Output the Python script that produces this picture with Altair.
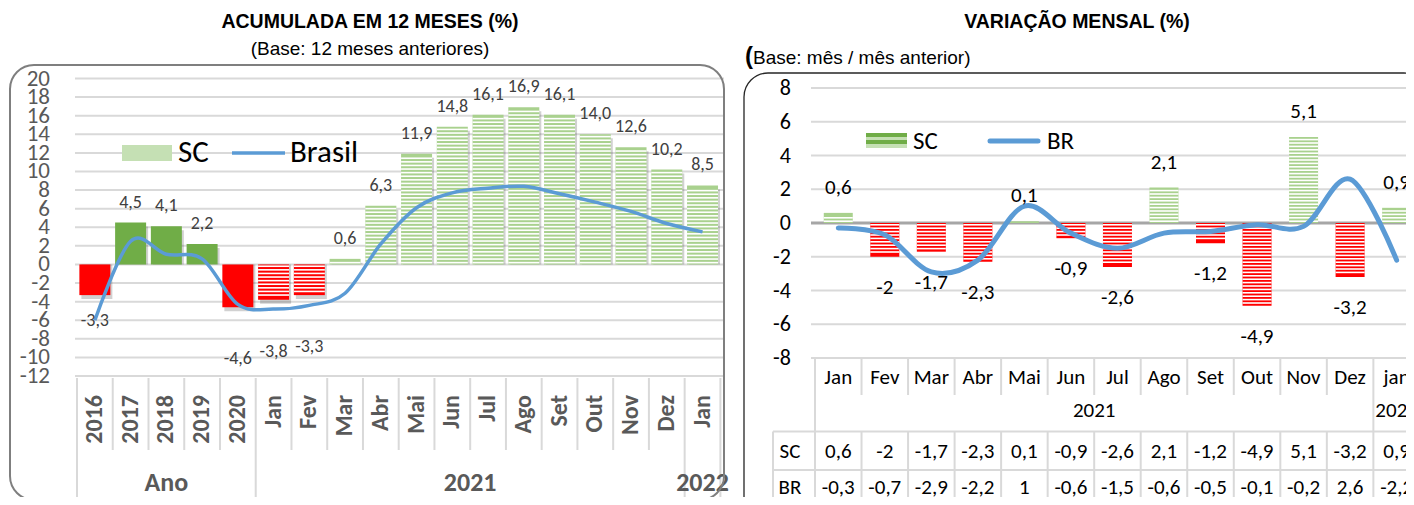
import altair as alt
import pandas as pd

# ---------------- data ----------------
cats_left = ["2016", "2017", "2018", "2019", "2020", "Jan", "Fev", "Mar", "Abr",
             "Mai", "Jun", "Jul", "Ago", "Set", "Out", "Nov", "Dez", "Jan"]
groups_left = ["Ano"] * 5 + ["2021"] * 12 + ["2022"]
sc_acum = [-3.3, 4.5, 4.1, 2.2, -4.6, -3.8, -3.3, 0.6, 6.3, 11.9, 14.8, 16.1,
           16.9, 16.1, 14.0, 12.6, 10.2, 8.5]
br_acum = [-6.0, 2.5, 1.1, 0.6, -4.3, -4.8, -4.4, -3.1, 2.2, 6.1, 7.7, 8.2,
           8.4, 7.6, 6.7, 5.7, 4.4, 3.5]
ticks_left = [-12, -10, -8, -6, -4, -2, 0, 2, 4, 6, 8, 10, 12, 14, 16, 18, 20]

months_right = ["Jan", "Fev", "Mar", "Abr", "Mai", "Jun", "Jul", "Ago", "Set",
                "Out", "Nov", "Dez", "jan"]
years_right = ["2021"] * 12 + ["2022"]
sc_mensal = [0.6, -2, -1.7, -2.3, 0.1, -0.9, -2.6, 2.1, -1.2, -4.9, 5.1, -3.2, 0.9]
br_mensal = [-0.3, -0.7, -2.9, -2.2, 1, -0.6, -1.5, -0.6, -0.5, -0.1, -0.2, 2.6, -2.2]
ticks_right = [-8, -6, -4, -2, 0, 2, 4, 6, 8]


def fmt1(v):
    return f"{v:.1f}".replace(".", ",")


def fmtg(v):
    return f"{v:g}".replace(".", ",")


CAL = "Carlito, Lato, sans-serif"
ARIAL = "Liberation Sans, Arial, sans-serif"
GRID = "#D9D9D9"
BLUE = "#5B9BD5"

# ---------------- tables ----------------
dfL = pd.DataFrame({
    "idx": list(range(len(cats_left))),
    "cat": cats_left,
    "grp": groups_left,
    "sc": sc_acum,
    "br": br_acum,
    "lab": [fmt1(v) for v in sc_acum],
})
bl, longl = [], []
for i in range(len(cats_left) + 1):
    bl.append(i - 0.5)
    longl.append(i == 0 or i == len(cats_left) or groups_left[i] != groups_left[i - 1])
dfSepL = pd.DataFrame({"b": bl, "long": longl})
gnames, gcent = [], []
for g in dict.fromkeys(groups_left):
    ids = [i for i, gg in enumerate(groups_left) if gg == g]
    gnames.append(g)
    gcent.append(sum(ids) / len(ids))
dfGrpL = pd.DataFrame({"g": gnames, "c": gcent})
dfTL = pd.DataFrame({"t": ticks_left, "ts": [str(t) for t in ticks_left]})

dfR = pd.DataFrame({
    "idx": list(range(len(months_right))),
    "m": months_right,
    "sc": sc_mensal,
    "br": br_mensal,
    "lsc": [fmtg(v) for v in sc_mensal],
    "lbr": [fmtg(v) for v in br_mensal],
})
br_, longr = [], []
for i in range(len(months_right) + 1):
    br_.append(i - 0.5)
    longr.append(i == 0 or i == len(months_right) or years_right[i] != years_right[i - 1])
dfSepR = pd.DataFrame({"b": br_, "long": longr})
ynames, ycent = [], []
for g in dict.fromkeys(years_right):
    ids = [i for i, gg in enumerate(years_right) if gg == g]
    ynames.append(g)
    ycent.append(sum(ids) / len(ids))
dfGrpR = pd.DataFrame({"g": ynames, "c": ycent})
dfTR = pd.DataFrame({"t": ticks_right, "ts": [str(t) for t in ticks_right]})
one = pd.DataFrame({"a": [0]})

# ---------------- left chart ----------------
LX = alt.Scale(domain=[-0.5, 17.5], range=[64, 64 + 18 * 36.3], nice=False, zero=False)
LY = alt.Scale(domain=[-12, 20], range=[368, 70.5], nice=False, zero=False)
LPX = (368 - 70.5) / 32.0
xL = alt.X("idx:Q", scale=LX, axis=None)

baseL = alt.Chart(dfL)
gridL = alt.Chart(dfTL).mark_rule(color=GRID, strokeWidth=2).encode(
    x=alt.value(67), x2=alt.value(716), y=alt.Y("t:Q", scale=LY, axis=None))
ylabL = alt.Chart(dfTL).mark_text(align="right", baseline="middle", font=CAL,
                                  fontSize=23, color="#595959").encode(
    x=alt.value(42), y=alt.Y("t:Q", scale=LY, axis=None), text="ts:N")
shadowL = baseL.mark_bar(width=31, color="#000000", opacity=0.18, xOffset=2, yOffset=4).encode(
    x=xL, y=alt.Y("sc:Q", scale=LY, axis=None), y2=alt.datum(0))
barsL = baseL.transform_calculate(
    col="datum.sc < 0 ? '#FF0000' : (datum.idx < 5 ? '#70AD47' : '#A9D18E')"
).mark_bar(width=31).encode(
    x=xL, y=alt.Y("sc:Q", scale=LY, axis=None), y2=alt.datum(0),
    color=alt.Color("col:N", scale=None))
stripesL = baseL.transform_filter("datum.idx >= 5").transform_calculate(
    k=f"sequence(0, floor(abs(datum.sc)*{LPX}/3.6))"
).transform_flatten(["k"]).transform_calculate(
    s="datum.sc >= 0 ? 1 : -1"
).transform_calculate(
    ya=f"datum.s*(datum.k*3.6+1.0)/{LPX}",
    yb=f"datum.s*(datum.k*3.6+2.6)/{LPX}",
).transform_filter("abs(datum.yb) <= abs(datum.sc)").mark_bar(width=31, color="white").encode(
    x=xL, y=alt.Y("ya:Q", scale=LY, axis=None), y2="yb:Q")
lineL = baseL.mark_line(interpolate="cardinal", color=BLUE, strokeWidth=3.5).encode(
    x=xL, y=alt.Y("br:Q", scale=LY, axis=None))
labPosL = baseL.transform_filter("datum.sc >= 0").mark_text(
    dy=-20, font=CAL, fontSize=18, color="#404040").encode(
    x=xL, y=alt.Y("sc:Q", scale=LY, axis=None), text="lab:N")
labNeg1L = baseL.transform_filter("datum.sc < 0 && datum.idx == 0").mark_text(
    dy=26, font=CAL, fontSize=18, color="#404040").encode(
    x=xL, y=alt.Y("sc:Q", scale=LY, axis=None), text="lab:N")
labNeg2L = baseL.transform_filter("datum.sc < 0 && datum.idx > 0").mark_text(
    dy=52, font=CAL, fontSize=18, color="#404040").encode(
    x=xL, y=alt.Y("sc:Q", scale=LY, axis=None), text="lab:N")
xlabL = baseL.mark_text(angle=270, align="right", baseline="middle", font=CAL,
                        fontSize=24, fontWeight="bold", color="#595959").encode(
    x=xL, y=alt.value(387), text="cat:N")
sepShortL = alt.Chart(dfSepL).transform_filter("!datum.long").mark_rule(
    color=GRID, strokeWidth=2).encode(
    x=alt.X("b:Q", scale=LX, axis=None), y=alt.value(370), y2=alt.value(442))
sepLongL = alt.Chart(dfSepL).transform_filter("datum.long").mark_rule(
    color=GRID, strokeWidth=2).encode(
    x=alt.X("b:Q", scale=LX, axis=None), y=alt.value(370), y2=alt.value(492))
grpL = alt.Chart(dfGrpL).mark_text(font=CAL, fontSize=26, fontWeight="bold",
                                   color="#595959", baseline="middle").encode(
    x=alt.X("c:Q", scale=LX, axis=None), y=alt.value(475), text="g:N")

left = alt.layer(gridL, ylabL, shadowL, barsL, stripesL, lineL, labPosL, labNeg1L,
                 labNeg2L, xlabL, sepShortL, sepLongL, grpL)

# ---------------- right chart ----------------
RX = alt.Scale(domain=[-0.5, 12.5], range=[802, 802 + 13 * 47.3], nice=False, zero=False)
RY = alt.Scale(domain=[-8, 8], range=[350, 80], nice=False, zero=False)
RPX = (350 - 80) / 16.0
xR = alt.X("idx:Q", scale=RX, axis=None)
baseR = alt.Chart(dfR)

gridR = alt.Chart(dfTR).transform_filter("datum.t != 0").mark_rule(
    color=GRID, strokeWidth=2).encode(
    x=alt.value(803), x2=alt.value(1406), y=alt.Y("t:Q", scale=RY, axis=None))
zeroR = alt.Chart(dfTR).transform_filter("datum.t == 0").mark_rule(
    color="#A6A6A6", strokeWidth=3).encode(
    x=alt.value(803), x2=alt.value(1406), y=alt.Y("t:Q", scale=RY, axis=None))
ylabR = alt.Chart(dfTR).mark_text(align="right", baseline="middle", font=CAL,
                                  fontSize=22, color="#000000").encode(
    x=alt.value(783), y=alt.Y("t:Q", scale=RY, axis=None), text="ts:N")
barsR = baseR.transform_calculate(
    col="datum.sc < 0 ? '#FF0000' : '#A9D18E'"
).mark_bar(width=29).encode(
    x=xR, y=alt.Y("sc:Q", scale=RY, axis=None), y2=alt.datum(0),
    color=alt.Color("col:N", scale=None))
stripesR = baseR.transform_calculate(
    k=f"sequence(0, floor(abs(datum.sc)*{RPX}/3.4))"
).transform_flatten(["k"]).transform_calculate(
    s="datum.sc >= 0 ? 1 : -1"
).transform_calculate(
    ya=f"datum.s*(datum.k*3.4+1.0)/{RPX}",
    yb=f"datum.s*(datum.k*3.4+2.6)/{RPX}",
).transform_filter("abs(datum.yb) <= abs(datum.sc)").mark_bar(width=29, color="white").encode(
    x=xR, y=alt.Y("ya:Q", scale=RY, axis=None), y2="yb:Q")
lineR = baseR.mark_line(interpolate="cardinal", color=BLUE, strokeWidth=5,
                        strokeCap="round").encode(
    x=xR, y=alt.Y("br:Q", scale=RY, axis=None))
labPosR = baseR.transform_filter("datum.sc >= 0").mark_text(
    dy=-25, font=CAL, fontSize=21, color="#000000").encode(
    x=xR, y=alt.Y("sc:Q", scale=RY, axis=None), text="lsc:N")
labNegR = baseR.transform_filter("datum.sc < 0").mark_text(
    dy=31, font=CAL, fontSize=21, color="#000000").encode(
    x=xR, y=alt.Y("sc:Q", scale=RY, axis=None), text="lsc:N")
# data table
monR = baseR.mark_text(font=CAL, fontSize=21, color="#000000", baseline="middle").encode(
    x=xR, y=alt.value(370), text="m:N")
yrR = alt.Chart(dfGrpR).mark_text(font=CAL, fontSize=21, color="#000000",
                                  baseline="middle").encode(
    x=alt.X("c:Q", scale=RX, axis=None), y=alt.value(403), text="g:N")
scRowR = baseR.mark_text(font=CAL, fontSize=21, color="#000000", baseline="middle").encode(
    x=xR, y=alt.value(444), text="lsc:N")
brRowR = baseR.mark_text(font=CAL, fontSize=21, color="#000000", baseline="middle").encode(
    x=xR, y=alt.value(480), text="lbr:N")
sepLongR = alt.Chart(dfSepR).transform_filter("datum.long").mark_rule(
    color=GRID, strokeWidth=2).encode(
    x=alt.X("b:Q", scale=RX, axis=None), y=alt.value(351), y2=alt.value(500))
sepTopR = alt.Chart(dfSepR).transform_filter("!datum.long").mark_rule(
    color=GRID, strokeWidth=2).encode(
    x=alt.X("b:Q", scale=RX, axis=None), y=alt.value(351), y2=alt.value(387))
sepBotR = alt.Chart(dfSepR).transform_filter("!datum.long").mark_rule(
    color=GRID, strokeWidth=2).encode(
    x=alt.X("b:Q", scale=RX, axis=None), y=alt.value(423.5), y2=alt.value(500))

right = alt.layer(gridR, zeroR, ylabR, barsR, stripesR, lineR, labPosR, labNegR,
                  monR, yrR, scRowR, brRowR, sepLongR, sepTopR, sepBotR)

# ---------------- decorations: titles, legends, table frame, panels ----------------
d = alt.Chart(one)


def txt(s, x, y, size, font=ARIAL, weight="normal", align="center", color="#000000"):
    return d.mark_text(text=s, font=font, fontSize=size, fontWeight=weight, align=align,
                       baseline="middle", color=color).encode(x=alt.value(x), y=alt.value(y))


def rule(x1, x2, y1, y2, color=GRID, w=2, cap="butt"):
    return d.mark_rule(color=color, strokeWidth=w, strokeCap=cap).encode(
        x=alt.value(x1), x2=alt.value(x2), y=alt.value(y1), y2=alt.value(y2))


stops = []
n = 4
for i in range(n):
    c = "#70AD47" if i % 2 == 0 else "#C5E0B4"
    stops.append(alt.GradientStop(offset=i / n, color=c))
    stops.append(alt.GradientStop(offset=(i + 1) / n, color=c))
stripe_grad = alt.Gradient(gradient="linear", x1=0, x2=0, y1=0, y2=1, stops=stops)

deco = alt.layer(
    # panels
    d.mark_rect(fillOpacity=0, stroke="#7F7F7F", strokeWidth=2, cornerRadius=24).encode(
        x=alt.value(2), x2=alt.value(716), y=alt.value(57), y2=alt.value(492)),
    d.mark_rect(fillOpacity=0, stroke="#262626", strokeWidth=1.3, cornerRadius=24).encode(
        x=alt.value(736), x2=alt.value(1420), y=alt.value(65), y2=alt.value(512)),
    # titles
    txt("ACUMULADA EM 12 MESES (%)", 362, 14, 19.5, weight="bold"),
    txt("(Base: 12 meses anteriores)", 362, 41, 19),
    txt("VARIAÇÃO MENSAL (%)", 1069, 14, 19.5, weight="bold"),
    txt("(", 737, 49, 24, weight="bold", align="left"),
    txt("Base: mês / mês anterior)", 745, 50, 19, align="left"),
    # left legend
    d.mark_rect(color="#C5E0B4").encode(x=alt.value(114), x2=alt.value(164),
                                        y=alt.value(137), y2=alt.value(153)),
    txt("SC", 170, 145, 31, font=CAL, align="left"),
    rule(224, 277, 145, 145, color=BLUE, w=3.5),
    txt("Brasil", 282, 145, 31, font=CAL, align="left"),
    # right legend
    d.mark_rect(fill=stripe_grad).encode(x=alt.value(858), x2=alt.value(899),
                                         y=alt.value(125), y2=alt.value(140)),
    txt("SC", 905, 133, 25, font=CAL, align="left"),
    rule(982, 1030, 133, 133, color=BLUE, w=5, cap="round"),
    txt("BR", 1039, 133, 25, font=CAL, align="left"),
    # right data table frame
    rule(765, 1414, 423.5, 423.5),
    rule(765, 1414, 462, 462),
    rule(765, 765, 423.5, 500),
    txt("SC", 782, 444, 21, font=CAL),
    txt("BR", 782, 480, 21, font=CAL),
)

chart = alt.layer(left, right, deco).resolve_scale(
    x="independent", y="independent"
).properties(
    width=1398, height=489, padding=0, autosize=alt.AutoSizeParams(type="none")
).configure_view(stroke=None)

chart.save("out.html", embed_options={"renderer": "svg", "actions": False})
